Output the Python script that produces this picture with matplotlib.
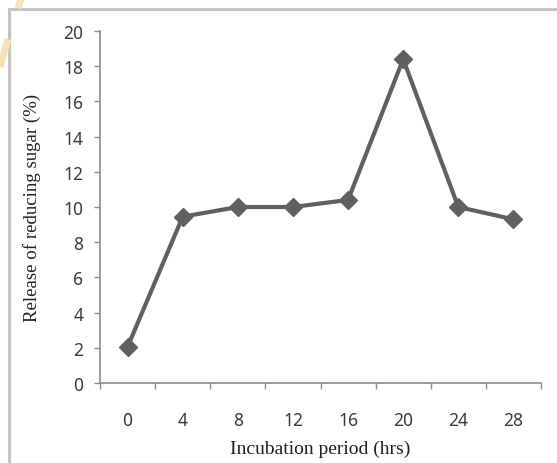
import numpy as np
import matplotlib.pyplot as plt
from matplotlib.patches import Rectangle
from matplotlib.lines import Line2D

hours = [0, 4, 8, 12, 16, 20, 24, 28]
sugar = [2.05, 9.45, 10.0, 10.0, 10.4, 18.4, 10.0, 9.3]
y_ticks = [0, 2, 4, 6, 8, 10, 12, 14, 16, 18, 20]

W, H = 557, 464
fig = plt.figure(figsize=(W / 100, H / 100), dpi=100)
ax = fig.add_axes([100 / W, 1 - 384 / H, 441 / W, 352 / H])

# light grey frame around the chart, running off the right and bottom edges
fig.patches.append(Rectangle((9 / W, -0.1), 1.2, 1 - 10 / H + 0.1,
                             transform=fig.transFigure, fill=False,
                             edgecolor='#c4c4c4', linewidth=2.2))

# faint watermark stroke peeking out at the top-left corner
for (x0, y0), (x1, y1) in [((21, 0), (18, 9)), ((8, 40), (0, 68))]:
    fig.add_artist(Line2D([x0 / W, x1 / W], [1 - y0 / H, 1 - y1 / H],
                          transform=fig.transFigure, color='#f7e2b4',
                          linewidth=5, solid_capstyle='butt'))

ax.plot(hours, sugar, color='#606060', linewidth=3.0, marker='D',
        markersize=9, markerfacecolor='#606060', markeredgecolor='#606060')

ax.set_xlim(-2, 30)
ax.set_ylim(0, 20)
ax.set_yticks(y_ticks)

# category style axis: ticks between groups, labels at group centres
ax.set_xticks(np.arange(-2, 31, 4))
ax.set_xticklabels([])
ax.set_xticks(hours, minor=True)
ax.set_xticklabels([str(h) for h in hours], minor=True)

ax.tick_params(axis='both', which='both', labelsize=12.5, labelcolor='#3a3a3a',
               labelfontfamily='Noto Sans')
ax.tick_params(axis='y', which='major', length=4, width=1, color='#8c8c8c', pad=8)
ax.tick_params(axis='x', which='major', length=4, width=1, color='#8c8c8c')
ax.tick_params(axis='x', which='minor', length=0, pad=20)

for side in ['top', 'right']:
    ax.spines[side].set_visible(False)
for side in ['left', 'bottom']:
    ax.spines[side].set_color('#8c8c8c')
    ax.spines[side].set_linewidth(1.2)

ax.set_xlabel('Incubation period (hrs)', fontfamily='Liberation Serif',
              fontsize=14, color='#202020', labelpad=8)
ax.set_ylabel('Release of reducing sugar (%)', fontfamily='Liberation Serif',
              fontsize=13.6, color='#202020', labelpad=16)

fig.savefig('out.png', dpi=100)
